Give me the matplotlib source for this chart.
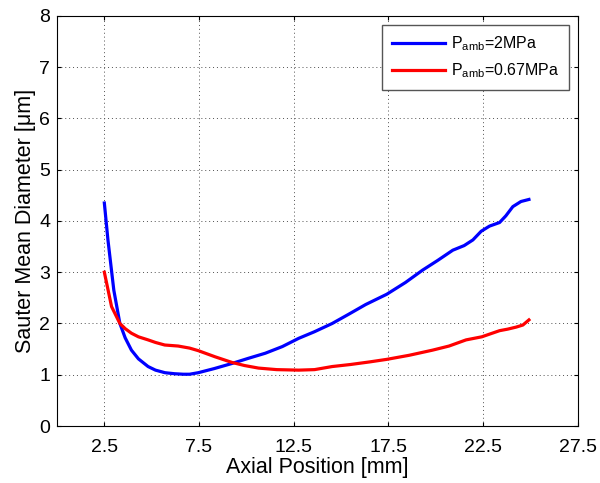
import matplotlib
matplotlib.use("Agg")
import matplotlib.pyplot as plt

plt.rcParams["font.family"] = ["Liberation Sans", "DejaVu Sans"]
plt.rcParams["mathtext.fontset"] = "custom"
plt.rcParams["mathtext.rm"] = "Liberation Sans"
plt.rcParams["mathtext.it"] = "Liberation Sans:italic"

# Sauter mean diameter along the axis
x_2mpa = [2.5, 2.69, 3.0, 3.32, 3.6, 3.93, 4.3, 4.81, 5.2, 5.7, 6.2, 6.67, 7.0,
          7.46, 8.3, 9.24, 10.1, 11.0, 11.9, 12.76, 13.6, 14.53, 15.4, 16.3,
          17.41, 18.4, 19.3, 20.1, 20.9, 21.5, 21.96, 22.4, 22.84, 23.37,
          23.7, 24.07, 24.5, 24.92]
d_2mpa = [4.35, 3.63, 2.65, 2.0, 1.72, 1.48, 1.31, 1.16, 1.09, 1.04, 1.02, 1.01, 1.01,
          1.04, 1.12, 1.22, 1.32, 1.42, 1.55, 1.71, 1.84, 2.0, 2.18, 2.37,
          2.57, 2.8, 3.04, 3.23, 3.43, 3.52, 3.63, 3.80, 3.90, 3.97,
          4.10, 4.28, 4.38, 4.42]

x_067mpa = [2.5, 2.88, 3.32, 3.6, 3.93, 4.3, 4.81, 5.2, 5.69, 6.4, 7.0, 7.46,
            8.35, 9.24, 9.9, 10.64, 11.6, 12.76, 13.6, 14.53, 15.5, 16.5,
            17.41, 18.6, 19.83, 20.7, 21.6, 22.43, 22.9, 23.37, 23.8, 24.25,
            24.6, 24.92]
d_067mpa = [3.0, 2.33, 2.0, 1.9, 1.81, 1.74, 1.68, 1.63, 1.58, 1.56, 1.52, 1.47,
            1.35, 1.24, 1.18, 1.13, 1.10, 1.09, 1.10, 1.16, 1.20, 1.25,
            1.30, 1.38, 1.48, 1.56, 1.68, 1.74, 1.80, 1.86, 1.89, 1.93,
            1.97, 2.07]

x_ticks = [2.5, 7.5, 12.5, 17.5, 22.5, 27.5]
y_ticks = [0, 1, 2, 3, 4, 5, 6, 7, 8]

fig = plt.figure(figsize=(6.0, 4.83), dpi=100)
ax = fig.add_axes([0.095, 0.118, 0.868, 0.849])

ax.plot(x_2mpa, d_2mpa, color="#0000ff", lw=2.3, label=r"P$_{\mathrm{amb}}$=2MPa")
ax.plot(x_067mpa, d_067mpa, color="#ff0000", lw=2.3, label=r"P$_{\mathrm{amb}}$=0.67MPa")

ax.set_xlim(0, 27.5)
ax.set_ylim(0, 8)
ax.set_xticks(x_ticks)
ax.set_xticklabels([f"{t:g}" for t in x_ticks])
ax.set_yticks(y_ticks)
ax.tick_params(direction="in", top=True, right=True, labelsize=14, length=3)
ax.tick_params(axis="x", pad=9)
ax.tick_params(axis="y", pad=5)
ax.grid(True, color="#505050", linestyle=(0, (1, 3)), linewidth=0.7)
for s in ax.spines.values():
    s.set_linewidth(0.8)

ax.set_xlabel("Axial Position [mm]", fontsize=15.5, labelpad=1)
ax.set_ylabel("Sauter Mean Diameter [\u03bcm]", fontsize=15.5, labelpad=2)

leg = ax.legend(loc="upper right", fontsize=11.5, fancybox=False, framealpha=1,
                edgecolor="#555555", handlelength=3.3, handletextpad=0.4,
                borderaxespad=0.55, labelspacing=0.55, borderpad=0.6)
leg.get_frame().set_linewidth(1.0)

fig.savefig("out.png", dpi=100)
